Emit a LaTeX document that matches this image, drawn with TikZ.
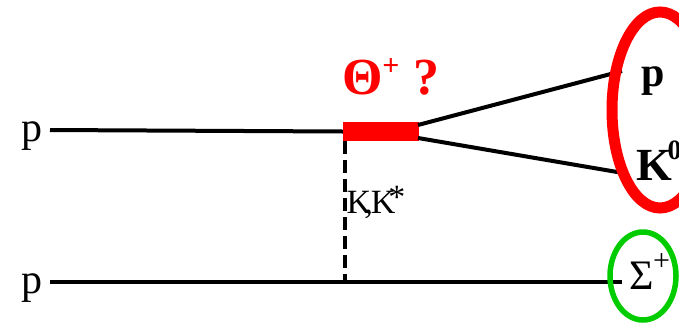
\documentclass[tikz,border=0pt]{standalone}
\usepackage{fontspec}
\setmainfont{Liberation Serif}
\begin{document}
\begin{tikzpicture}[x=1pt,y=1pt,
  line/.style={line width=4pt},
  lbl/.style={inner sep=0pt,font=\fontsize{42}{46}\selectfont},
  blbl/.style={inner sep=0pt,font=\fontsize{42}{46}\selectfont\bfseries}]
\useasboundingbox (0,0) rectangle (679,-322);
% left labels
\node[lbl,anchor=base] (p1) at (32,-141) {p};
\node[lbl,anchor=base] (p2) at (32,-293) {p};
\coordinate (s1) at (50,-130);
\coordinate (s2) at (50,-282);
% resonance bar
\node[fill=red,draw=none,minimum width=76pt,minimum height=19pt,inner sep=0pt] (bar) at (381,-131.5) {};
\node[inner sep=0pt,font=\fontsize{52}{56}\selectfont\bfseries,text=red,anchor=base] (theta) at (391,-94) {Θ\kern-0.02em\raisebox{0.36em}{\fontsize{30}{32}\selectfont +}\kern0.26em?};
\draw[line] (s1) -- (bar.west);
% decay lines
\coordinate (d1a) at (418,-125);
\coordinate (d2a) at (418,-138);
\coordinate (d1b) at (622,-71);
\coordinate (d2b) at (623,-173);
\draw[line] (d1a) -- (d1b);
\draw[line] (d2a) -- (d2b);
% exchange
\coordinate (ex1) at (345,-141);
\coordinate (ex2) at (345,-282);
\draw[line,dash pattern=on 13pt off 6pt] (ex1) -- (ex2);
\node[inner sep=0pt,font=\fontsize{34}{36}\selectfont,anchor=base] (kk) at (376,-213) {K\kern-0.2em,\kern-0.06em K\kern-0.2em\raisebox{0.12em}{*}};
% bottom line
\coordinate (b2) at (622,-282);
\draw[line] (s2) -- (b2);
% final states
\draw[red,line width=11pt] (660,-110) ellipse[x radius=48,y radius=98];
\draw[green!80!black,line width=5.5pt] (643,-276) ellipse[x radius=33,y radius=44];
\node[blbl,anchor=base] (pf) at (653,-86) {p};
\node[inner sep=0pt,font=\fontsize{46}{50}\selectfont\bfseries,anchor=base] (k0) at (659,-180) {K\kern-0.1em\raisebox{0.45em}{\fontsize{28}{30}\selectfont 0}};
\node[lbl,anchor=base] (sig) at (650,-289) {Σ\kern-0.03em\raisebox{0.45em}{\fontsize{30}{32}\selectfont +}};
\end{tikzpicture}
\end{document}
